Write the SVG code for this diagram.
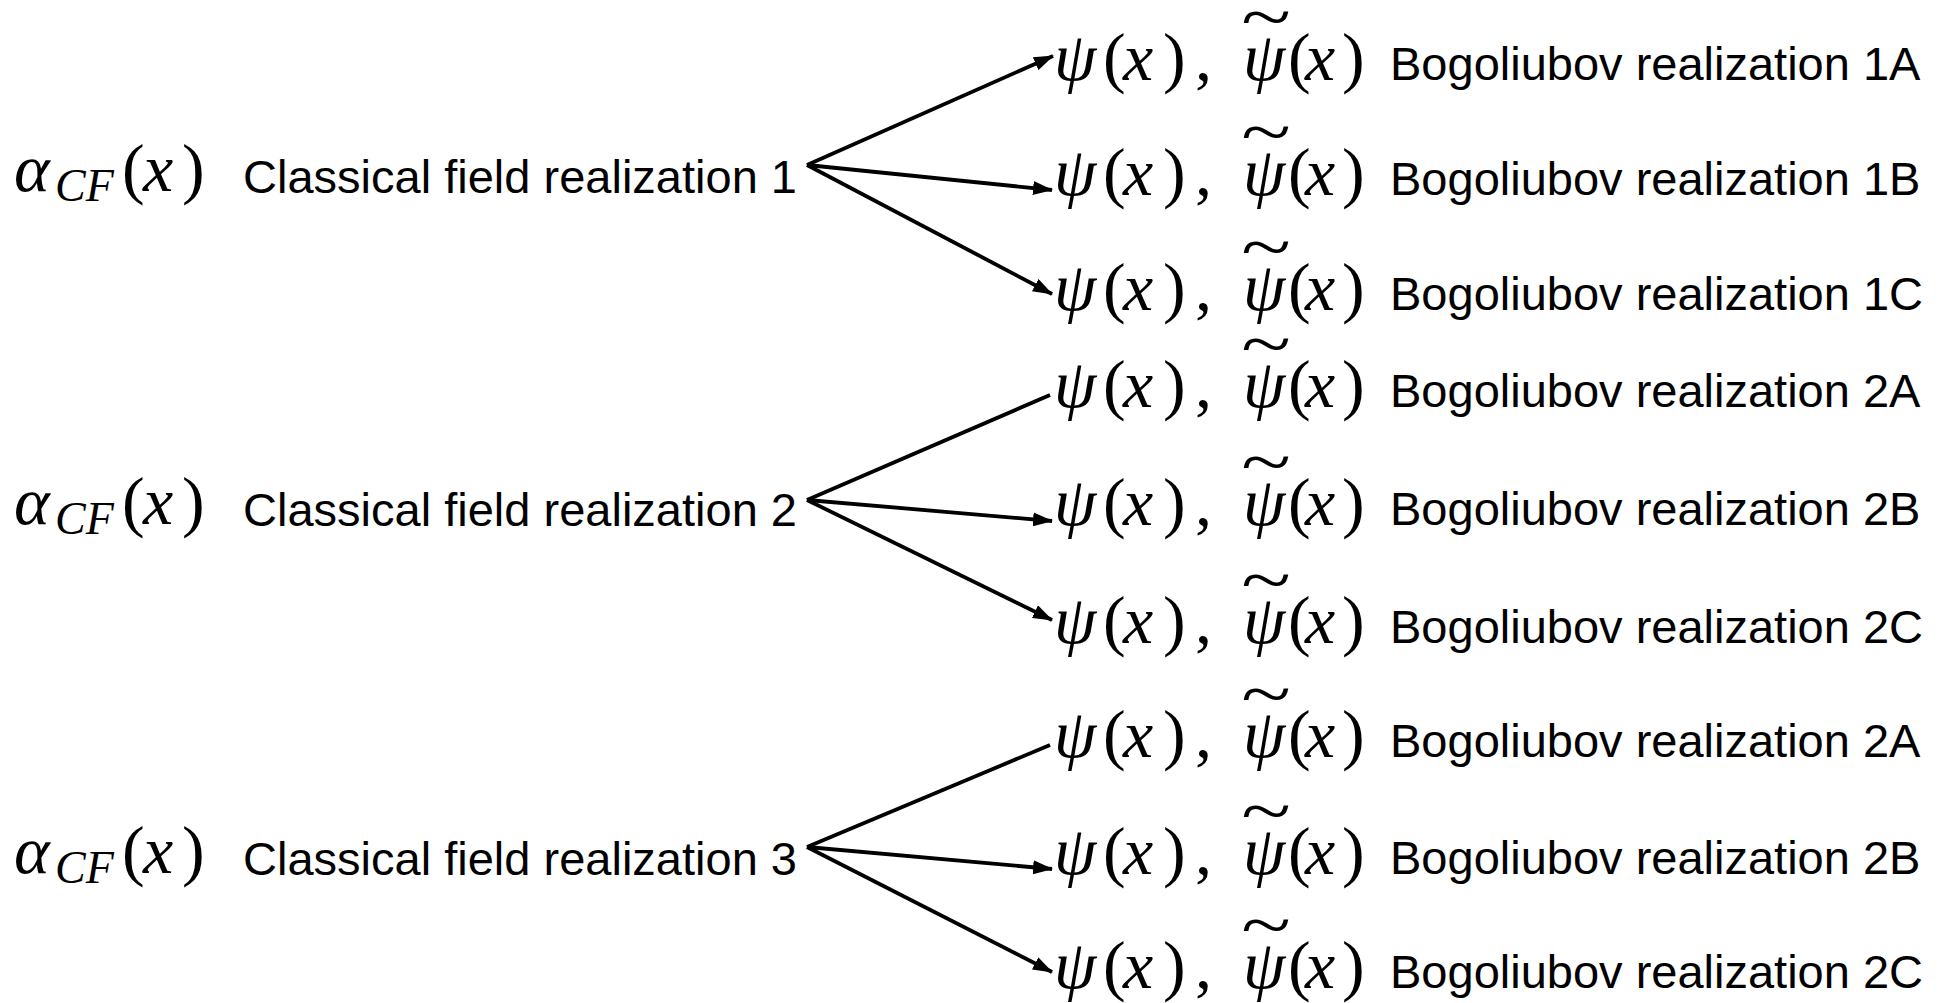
<svg xmlns="http://www.w3.org/2000/svg" width="1946" height="1003" viewBox="0 0 1946 1003">
<style>
.t{font-family:"Liberation Sans",Arial,sans-serif;font-size:47px;fill:#000}
.m{font-family:"Liberation Serif","DejaVu Serif",serif;font-style:italic;font-size:68px;fill:#000}
.s{font-family:"Liberation Serif","DejaVu Serif",serif;font-style:italic;font-size:46px;fill:#000}
.p{font-family:"Liberation Serif","DejaVu Serif",serif;font-size:68px;fill:#000}
.c{stroke:#000;stroke-width:3.8;fill:none}
.h{marker-end:url(#ah)}
</style>
<defs>
<marker id="ah" markerUnits="userSpaceOnUse" markerWidth="20" markerHeight="14" refX="19" refY="7" orient="auto" viewBox="0 0 20 14">
<path d="M0,0 L20,7 L0,14 z" fill="#000"/>
</marker>
</defs>
<rect width="1946" height="1003" fill="#fff"/>
<g id="connectors">
<line class="c h" x1="807" y1="165" x2="1053" y2="56"/>
<line class="c h" x1="807" y1="165" x2="1052" y2="190"/>
<line class="c h" x1="807" y1="165" x2="1052" y2="294"/>
<line class="c" x1="807" y1="500" x2="1050" y2="395"/>
<line class="c h" x1="807" y1="500" x2="1052" y2="521"/>
<line class="c h" x1="807" y1="500" x2="1052" y2="620"/>
<line class="c" x1="807" y1="847" x2="1050" y2="745"/>
<line class="c h" x1="807" y1="847" x2="1052" y2="869"/>
<line class="c h" x1="807" y1="847" x2="1052" y2="972"/>
</g>
<g id="cf1" transform="translate(0,191)">
<text class="m" x="14" y="0">α</text><text class="s" x="55" y="10">CF</text><text class="p" x="122" y="0">(</text><text class="m" x="143" y="0">x</text><text class="p" x="182" y="0">)</text>
<text class="t" x="243" y="2" textLength="554" lengthAdjust="spacingAndGlyphs">Classical field realization 1</text>
</g>
<g id="cf2" transform="translate(0,524)">
<text class="m" x="14" y="0">α</text><text class="s" x="55" y="10">CF</text><text class="p" x="122" y="0">(</text><text class="m" x="143" y="0">x</text><text class="p" x="182" y="0">)</text>
<text class="t" x="243" y="2" textLength="554" lengthAdjust="spacingAndGlyphs">Classical field realization 2</text>
</g>
<g id="cf3" transform="translate(0,873)">
<text class="m" x="14" y="0">α</text><text class="s" x="55" y="10">CF</text><text class="p" x="122" y="0">(</text><text class="m" x="143" y="0">x</text><text class="p" x="182" y="0">)</text>
<text class="t" x="243" y="2" textLength="554" lengthAdjust="spacingAndGlyphs">Classical field realization 3</text>
</g>
<g id="b1A" transform="translate(0,80)">
<text class="m" x="1054" y="0">ψ</text><text class="p" x="1103" y="0">(</text><text class="m" x="1123" y="0">x</text><text class="p" x="1163" y="0">)</text><text class="p" x="1195" y="0">,</text>
<text class="p" transform="translate(1266,-40) scale(1.35,1)" text-anchor="middle">~</text>
<text class="m" x="1243" y="0">ψ</text><text class="p" x="1288" y="0">(</text><text class="m" x="1305" y="0">x</text><text class="p" x="1342" y="0">)</text>
<text class="t" x="1390" y="0">Bogoliubov realization 1A</text>
</g>
<g id="b1B" transform="translate(0,195)">
<text class="m" x="1054" y="0">ψ</text><text class="p" x="1103" y="0">(</text><text class="m" x="1123" y="0">x</text><text class="p" x="1163" y="0">)</text><text class="p" x="1195" y="0">,</text>
<text class="p" transform="translate(1266,-40) scale(1.35,1)" text-anchor="middle">~</text>
<text class="m" x="1243" y="0">ψ</text><text class="p" x="1288" y="0">(</text><text class="m" x="1305" y="0">x</text><text class="p" x="1342" y="0">)</text>
<text class="t" x="1390" y="0">Bogoliubov realization 1B</text>
</g>
<g id="b1C" transform="translate(0,310)">
<text class="m" x="1054" y="0">ψ</text><text class="p" x="1103" y="0">(</text><text class="m" x="1123" y="0">x</text><text class="p" x="1163" y="0">)</text><text class="p" x="1195" y="0">,</text>
<text class="p" transform="translate(1266,-40) scale(1.35,1)" text-anchor="middle">~</text>
<text class="m" x="1243" y="0">ψ</text><text class="p" x="1288" y="0">(</text><text class="m" x="1305" y="0">x</text><text class="p" x="1342" y="0">)</text>
<text class="t" x="1390" y="0">Bogoliubov realization 1C</text>
</g>
<g id="b2A" transform="translate(0,407)">
<text class="m" x="1054" y="0">ψ</text><text class="p" x="1103" y="0">(</text><text class="m" x="1123" y="0">x</text><text class="p" x="1163" y="0">)</text><text class="p" x="1195" y="0">,</text>
<text class="p" transform="translate(1266,-40) scale(1.35,1)" text-anchor="middle">~</text>
<text class="m" x="1243" y="0">ψ</text><text class="p" x="1288" y="0">(</text><text class="m" x="1305" y="0">x</text><text class="p" x="1342" y="0">)</text>
<text class="t" x="1390" y="0">Bogoliubov realization 2A</text>
</g>
<g id="b2B" transform="translate(0,525)">
<text class="m" x="1054" y="0">ψ</text><text class="p" x="1103" y="0">(</text><text class="m" x="1123" y="0">x</text><text class="p" x="1163" y="0">)</text><text class="p" x="1195" y="0">,</text>
<text class="p" transform="translate(1266,-40) scale(1.35,1)" text-anchor="middle">~</text>
<text class="m" x="1243" y="0">ψ</text><text class="p" x="1288" y="0">(</text><text class="m" x="1305" y="0">x</text><text class="p" x="1342" y="0">)</text>
<text class="t" x="1390" y="0">Bogoliubov realization 2B</text>
</g>
<g id="b2C" transform="translate(0,643)">
<text class="m" x="1054" y="0">ψ</text><text class="p" x="1103" y="0">(</text><text class="m" x="1123" y="0">x</text><text class="p" x="1163" y="0">)</text><text class="p" x="1195" y="0">,</text>
<text class="p" transform="translate(1266,-40) scale(1.35,1)" text-anchor="middle">~</text>
<text class="m" x="1243" y="0">ψ</text><text class="p" x="1288" y="0">(</text><text class="m" x="1305" y="0">x</text><text class="p" x="1342" y="0">)</text>
<text class="t" x="1390" y="0">Bogoliubov realization 2C</text>
</g>
<g id="b3A" transform="translate(0,757)">
<text class="m" x="1054" y="0">ψ</text><text class="p" x="1103" y="0">(</text><text class="m" x="1123" y="0">x</text><text class="p" x="1163" y="0">)</text><text class="p" x="1195" y="0">,</text>
<text class="p" transform="translate(1266,-40) scale(1.35,1)" text-anchor="middle">~</text>
<text class="m" x="1243" y="0">ψ</text><text class="p" x="1288" y="0">(</text><text class="m" x="1305" y="0">x</text><text class="p" x="1342" y="0">)</text>
<text class="t" x="1390" y="0">Bogoliubov realization 2A</text>
</g>
<g id="b3B" transform="translate(0,874)">
<text class="m" x="1054" y="0">ψ</text><text class="p" x="1103" y="0">(</text><text class="m" x="1123" y="0">x</text><text class="p" x="1163" y="0">)</text><text class="p" x="1195" y="0">,</text>
<text class="p" transform="translate(1266,-40) scale(1.35,1)" text-anchor="middle">~</text>
<text class="m" x="1243" y="0">ψ</text><text class="p" x="1288" y="0">(</text><text class="m" x="1305" y="0">x</text><text class="p" x="1342" y="0">)</text>
<text class="t" x="1390" y="0">Bogoliubov realization 2B</text>
</g>
<g id="b3C" transform="translate(0,988)">
<text class="m" x="1054" y="0">ψ</text><text class="p" x="1103" y="0">(</text><text class="m" x="1123" y="0">x</text><text class="p" x="1163" y="0">)</text><text class="p" x="1195" y="0">,</text>
<text class="p" transform="translate(1266,-40) scale(1.35,1)" text-anchor="middle">~</text>
<text class="m" x="1243" y="0">ψ</text><text class="p" x="1288" y="0">(</text><text class="m" x="1305" y="0">x</text><text class="p" x="1342" y="0">)</text>
<text class="t" x="1390" y="0">Bogoliubov realization 2C</text>
</g>
</svg>
